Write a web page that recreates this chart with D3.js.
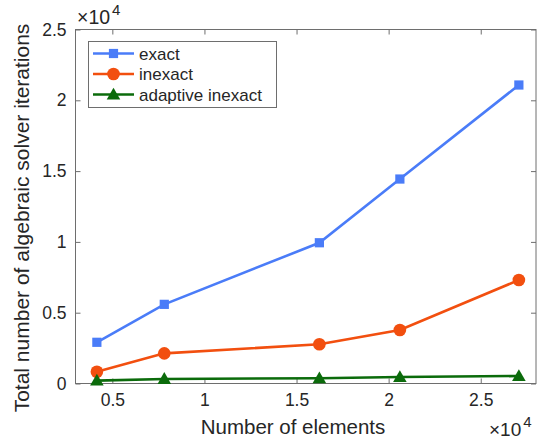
<!DOCTYPE html>
<html><head><meta charset="utf-8">
<script src="https://cdn.jsdelivr.net/npm/d3@7"></script>
<style>body{margin:0;background:#fff}svg{display:block}text{font-family:"Liberation Sans",Arial,Helvetica,sans-serif;fill:#262626}</style>
</head><body>
<script>
const seriesNames = ["exact", "inexact", "adaptive inexact"];
const elements = [4160, 7820, 16240, 20610, 27070];
const exactIter = [2910, 5590, 9940, 14440, 21080];
const inexactIter = [830, 2130, 2770, 3780, 7310];
const adaptiveIter = [200, 320, 370, 460, 530];
const colors = ["#4a7cf8", "#f24f0f", "#0b6b0b"];
const markers = ["square", "circle", "triangle"];
const xTicks = [0.5, 1, 1.5, 2, 2.5];
const yTicks = [0, 0.5, 1, 1.5, 2, 2.5];
const xLabel = "Number of elements";
const yLabel = "Total number of algebraic solver iterations";

const W = 540, H = 441;
const L = 75.5, R = 536, T = 29.5, B = 383.5;
const svg = d3.select("body").append("svg").attr("width", W).attr("height", H);
const x = d3.scaleLinear().domain([0.3, 2.8]).range([L, R]);
const y = d3.scaleLinear().domain([0, 2.5]).range([B, T]);
const axisCol = "#6e6e6e";

const tl = 5;
const g = svg.append("g");
g.append("g").attr("transform", `translate(0,${B})`)
  .call(d3.axisBottom(x).tickValues(xTicks).tickSize(-tl).tickFormat(d3.format("")).tickPadding(10))
  .call(a => { a.select(".domain").remove(); a.selectAll("line").attr("stroke", axisCol);
    a.selectAll("text").attr("font-size", 17.5).attr("fill", "#262626").attr("font-family", "Liberation Sans, Arial, sans-serif"); });
g.append("g").attr("transform", `translate(0,${T})`)
  .call(d3.axisTop(x).tickValues(xTicks).tickSize(-tl).tickFormat(""))
  .call(a => { a.select(".domain").remove(); a.selectAll("line").attr("stroke", axisCol); });
g.append("g").attr("transform", `translate(${L},0)`)
  .call(d3.axisLeft(y).tickValues(yTicks).tickSize(-tl).tickFormat(d3.format("")).tickPadding(9))
  .call(a => { a.select(".domain").remove(); a.selectAll("line").attr("stroke", axisCol);
    a.selectAll("text").attr("font-size", 17.5).attr("fill", "#262626").attr("font-family", "Liberation Sans, Arial, sans-serif"); });
g.append("g").attr("transform", `translate(${R},0)`)
  .call(d3.axisRight(y).tickValues(yTicks).tickSize(-tl).tickFormat(""))
  .call(a => { a.select(".domain").remove(); a.selectAll("line").attr("stroke", axisCol); });
svg.append("rect").attr("x", L).attr("y", T).attr("width", R - L).attr("height", B - T)
  .attr("fill", "none").attr("stroke", axisCol).attr("stroke-width", 1);

// exponent labels
const e1 = svg.append("text").attr("x", 77).attr("y", 24).attr("font-size", 19.5);
e1.append("tspan").text("×10");
e1.append("tspan").attr("dx", 2).attr("dy", -9).attr("font-size", 15).text("4");
const e2 = svg.append("text").attr("x", 489).attr("y", 436).attr("font-size", 19);
e2.append("tspan").text("×10");
e2.append("tspan").attr("dx", 2).attr("dy", -9).attr("font-size", 15).text("4");

// labels
svg.append("text").attr("x", 293).attr("y", 434).attr("text-anchor", "middle")
  .attr("font-size", 20.5).text(xLabel);
svg.append("text").attr("transform", `translate(29,218) rotate(-90)`)
  .attr("text-anchor", "middle").attr("font-size", 21).text(yLabel);

const allSeries = [exactIter, inexactIter, adaptiveIter];
const symType = { square: d3.symbolSquare, circle: d3.symbolCircle, triangle: d3.symbolTriangle };
const symSize = { square: 85, circle: 125, triangle: 80 };
const line = d3.line().x(d => x(d[0] / 1e4)).y(d => y(d[1] / 1e4));
const plot = svg.append("g");
allSeries.forEach((vals, i) => {
  const pts = elements.map((e, j) => [e, vals[j]]);
  plot.append("path").attr("d", line(pts)).attr("fill", "none")
    .attr("stroke", colors[i]).attr("stroke-width", 2.6);
  plot.selectAll(null).data(pts).enter().append("path")
    .attr("transform", d => `translate(${x(d[0] / 1e4)},${y(d[1] / 1e4) + (markers[i] === "triangle" ? 1 : 0)})`)
    .attr("d", d3.symbol().type(symType[markers[i]]).size(symSize[markers[i]]))
    .attr("fill", colors[i]);
});

// legend
const lg = svg.append("g");
lg.append("rect").attr("x", 88.5).attr("y", 41.5).attr("width", 188).attr("height", 66)
  .attr("fill", "#fff").attr("stroke", axisCol);
seriesNames.forEach((n, i) => {
  const cy = 53.5 + i * 20.5;
  lg.append("line").attr("x1", 93).attr("x2", 134).attr("y1", cy).attr("y2", cy)
    .attr("stroke", colors[i]).attr("stroke-width", 2.6);
  lg.append("path").attr("transform", `translate(113.5,${cy + (markers[i] === "triangle" ? 1 : 0)})`)
    .attr("d", d3.symbol().type(symType[markers[i]]).size(symSize[markers[i]])).attr("fill", colors[i]);
  lg.append("text").attr("x", 139).attr("y", cy + 6).attr("font-size", 17).text(n);
});
</script>
</body></html>
